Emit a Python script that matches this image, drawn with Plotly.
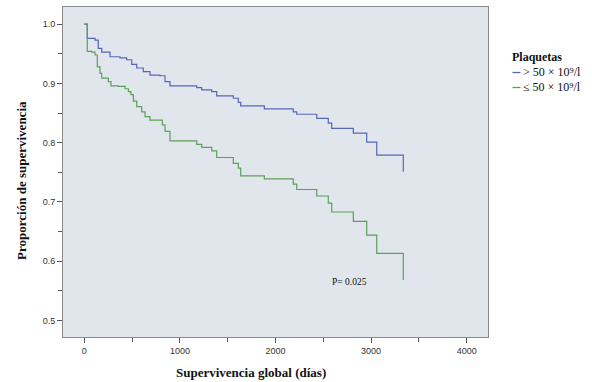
import plotly.graph_objects as go

# Kaplan-Meier data
days_hi = [0, 31, 112, 146, 182, 269, 373, 443, 496, 548, 617, 687, 792, 844, 896,
           1176, 1228, 1333, 1385, 1559, 1611, 1636, 1883, 2186, 2222, 2431, 2552,
           2588, 2814, 2954, 3059, 3337]
surv_hi = [1.0, 0.976, 0.973, 0.959, 0.953, 0.945, 0.943, 0.940, 0.932, 0.926, 0.920,
           0.914, 0.913, 0.903, 0.896, 0.893, 0.889, 0.886, 0.879, 0.875, 0.868, 0.862,
           0.857, 0.852, 0.848, 0.841, 0.833, 0.824, 0.816, 0.801, 0.779, 0.751]

days_lo = [0, 31, 77, 112, 136, 164, 182, 251, 279, 356, 426, 461, 488, 513, 548, 600,
           635, 687, 816, 844, 896, 1176, 1228, 1333, 1385, 1559, 1611, 1636, 1883,
           2186, 2222, 2431, 2552, 2588, 2814, 2954, 3059, 3337]
surv_lo = [1.0, 0.954, 0.953, 0.948, 0.928, 0.917, 0.909, 0.903, 0.896, 0.895, 0.891,
           0.886, 0.881, 0.870, 0.861, 0.852, 0.844, 0.838, 0.830, 0.819, 0.803, 0.797,
           0.792, 0.786, 0.775, 0.765, 0.757, 0.744, 0.739, 0.730, 0.721, 0.710, 0.698,
           0.683, 0.667, 0.644, 0.613, 0.568]

series_names = ["> 50 × 10⁹/l", "≤ 50 × 10⁹/l"]
y_ticks = [0.5, 0.6, 0.7, 0.8, 0.9, 1.0]
y_ticklabels = ["0.5", "0.6", "0.7", "0.8", "0.9", "1.0"]
x_ticks = [0, 1000, 2000, 3000, 4000]
x_ticklabels = ["0", "1000", "2000", "3000", "4000"]

BLUE = "#5566bb"
GREEN = "#5ba05a"
SERIF = "Liberation Serif, Times New Roman, serif"
SANS = "Liberation Sans, Arial, sans-serif"

fig = go.Figure()
fig.add_trace(go.Scatter(x=days_hi, y=surv_hi, mode="lines", line_shape="hv",
                         line=dict(color=BLUE, width=1.2), name=series_names[0],
                         showlegend=False))
fig.add_trace(go.Scatter(x=days_lo, y=surv_lo, mode="lines", line_shape="hv",
                         line=dict(color=GREEN, width=1.2), name=series_names[1],
                         showlegend=False))

axis_common = dict(showgrid=False, zeroline=False, showline=True, linecolor="#8a8a8a",
                   linewidth=1, mirror=True, ticks="outside", ticklen=5,
                   tickcolor="#555", tickfont=dict(family=SANS, size=9, color="#333"))

fig.update_xaxes(range=[-223, 4223], tickvals=x_ticks, ticktext=x_ticklabels,
                 minor=dict(ticks="outside", ticklen=4, tickcolor="#555",
                            tick0=500, dtick=1000, showgrid=False),
                 **axis_common)
fig.update_yaxes(range=[0.472, 1.029], tickvals=y_ticks, ticktext=y_ticklabels,
                 minor=dict(ticks="outside", ticklen=4, tickcolor="#555",
                            tick0=0.55, dtick=0.1, showgrid=False),
                 **axis_common)

def px_x(p):
    return (p - 63) / 425

def px_y(p):
    return (337 - p) / 330

annotations = [
    dict(text="<b>Proporción de supervivencia</b>", xref="paper", yref="paper",
         x=-0.0965, y=0.476, textangle=-90, showarrow=False,
         font=dict(family=SERIF, size=13, color="#111"), xanchor="center", yanchor="middle"),
    dict(text="<b>Supervivencia global (días)</b>", xref="paper", yref="paper",
         x=0.442, y=-0.1076, showarrow=False,
         font=dict(family=SERIF, size=13, color="#111"), xanchor="center", yanchor="middle"),
    dict(text="P= 0.025", xref="x", yref="y", x=2779, y=0.565, showarrow=False,
         font=dict(family=SERIF, size=9.5, color="#111"), xanchor="center", yanchor="middle"),
    dict(text="<b>Plaquetas</b>", xref="paper", yref="paper", x=px_x(512), y=px_y(57),
         showarrow=False, font=dict(family=SERIF, size=12, color="#111"),
         xanchor="left", yanchor="middle", xshift=-2),
    dict(text=series_names[0], xref="paper", yref="paper", x=px_x(521), y=px_y(72),
         showarrow=False, font=dict(family=SERIF, size=12, color="#111"),
         xanchor="left", yanchor="middle"),
    dict(text=series_names[1], xref="paper", yref="paper", x=px_x(521), y=px_y(87),
         showarrow=False, font=dict(family=SERIF, size=12, color="#111"),
         xanchor="left", yanchor="middle"),
]

shapes = [
    dict(type="line", xref="paper", yref="paper", x0=px_x(512.5), x1=px_x(520.5),
         y0=px_y(72.5), y1=px_y(72.5), line=dict(color=BLUE, width=1.3)),
    dict(type="line", xref="paper", yref="paper", x0=px_x(512.5), x1=px_x(520.5),
         y0=px_y(87.5), y1=px_y(87.5), line=dict(color=GREEN, width=1.3)),
]

fig.update_layout(width=592, height=382, margin=dict(l=63, r=104, t=7, b=45),
                  plot_bgcolor="#e0e6ec", paper_bgcolor="white",
                  annotations=annotations, shapes=shapes, showlegend=False)

fig.write_html("out.html", config={"displayModeBar": False},
               post_script="document.body.style.margin='0';document.body.style.padding='0';")
